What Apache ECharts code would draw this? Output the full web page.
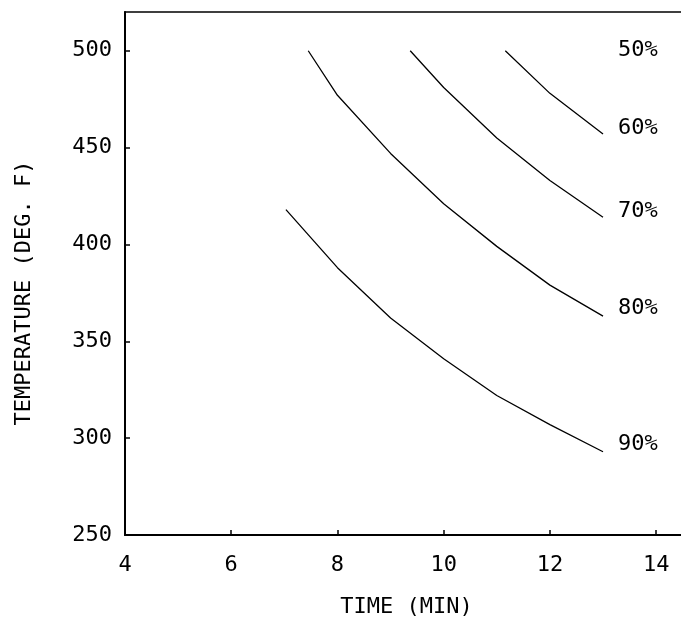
<!DOCTYPE html>
<html>
<head>
<meta charset="utf-8">
<title>Temperature vs time</title>
<script src="https://cdn.jsdelivr.net/npm/echarts@6/dist/echarts.min.js"></script>
<style>
    html, body {margin: 0; padding: 0; background: #fff; overflow: hidden;}
    #main {width: 681px; height: 617px;}
</style>
</head>
<body>
<div id="main"></div>
<script>
// curve data: time (min) and temperature (deg. F)
var times60 = [11.16, 12, 13];
var temps60 = [500, 478, 457];
var times70 = [9.37, 10, 11, 12, 13];
var temps70 = [500, 481, 455, 433, 414];
var times80 = [7.45, 8, 9, 10, 11, 12, 13];
var temps80 = [500, 477, 447, 421, 399, 379, 363];
var times90 = [7.03, 8, 9, 10, 11, 12, 13];
var temps90 = [418, 388, 362, 341, 322, 307, 293];

// percent labels at the right end of the curves
var labelNames = ['50%', '60%', '70%', '80%', '90%'];
var labelTemps = [500, 460, 417, 367, 297];
var labelTime = 13;

var FONT = 'DejaVu Sans Mono';

function pairs(xs, ys) {
    var out = [];
    for (var i = 0; i < xs.length; i++) {
        out.push([xs[i], ys[i]]);
    }
    return out;
}

function curve(name, xs, ys) {
    return {
        name: name,
        type: 'line',
        data: pairs(xs, ys),
        showSymbol: false,
        symbol: 'none',
        silent: true,
        lineStyle: {color: '#000', width: 1.3}
    };
}

var labelData = [];
for (var i = 0; i < labelNames.length; i++) {
    labelData.push({value: [labelTime, labelTemps[i]], name: labelNames[i]});
}

var chart = echarts.init(document.getElementById('main'));
var option = {
    animation: false,
    backgroundColor: '#fff',
    grid: {
        left: 125,
        top: 12,
        right: -7,   // plot runs past the right edge of the picture
        bottom: 82,
        outerBoundsMode: 'none',
        show: true,
        borderColor: '#000',
        borderWidth: 1.5
    },
    xAxis: {
        type: 'value',
        min: 4,
        max: 14.6,
        interval: 2,
        name: 'TIME (MIN)',
        nameLocation: 'middle',
        nameGap: 61,
        nameTextStyle: {fontFamily: FONT, fontSize: 22, color: '#000'},
        axisLine: {lineStyle: {color: '#000', width: 2}},
        axisTick: {inside: true, length: 5, lineStyle: {color: '#000', width: 1.5}},
        axisLabel: {fontFamily: FONT, fontSize: 22, color: '#000', margin: 19, showMaxLabel: false},
        splitLine: {show: false}
    },
    yAxis: {
        type: 'value',
        min: 250,
        max: 520,
        interval: 50,
        axisLine: {show: true, lineStyle: {color: '#000', width: 2}},
        axisTick: {show: true, inside: true, length: 5, lineStyle: {color: '#000', width: 1.5}},
        axisLabel: {fontFamily: FONT, fontSize: 22, color: '#000', margin: 13, showMaxLabel: false},
        splitLine: {show: false}
    },
    graphic: [{
        type: 'text',
        x: 24,
        y: 293,
        rotation: Math.PI / 2,
        style: {
            text: 'TEMPERATURE (DEG. F)',
            fontFamily: FONT,
            fontSize: 22,
            fill: '#000',
            align: 'center',
            verticalAlign: 'middle'
        }
    }],
    series: [
        curve('60%', times60, temps60),
        curve('70%', times70, temps70),
        curve('80%', times80, temps80),
        curve('90%', times90, temps90),
        {
            name: 'labels',
            type: 'scatter',
            symbolSize: 0,
            silent: true,
            itemStyle: {opacity: 1},
            data: labelData,
            label: {
                show: true,
                position: 'right',
                distance: 15,
                formatter: '{b}',
                fontFamily: FONT,
                fontSize: 22,
                color: '#000'
            }
        }
    ]
};
chart.setOption(option);
</script>
</body>
</html>
